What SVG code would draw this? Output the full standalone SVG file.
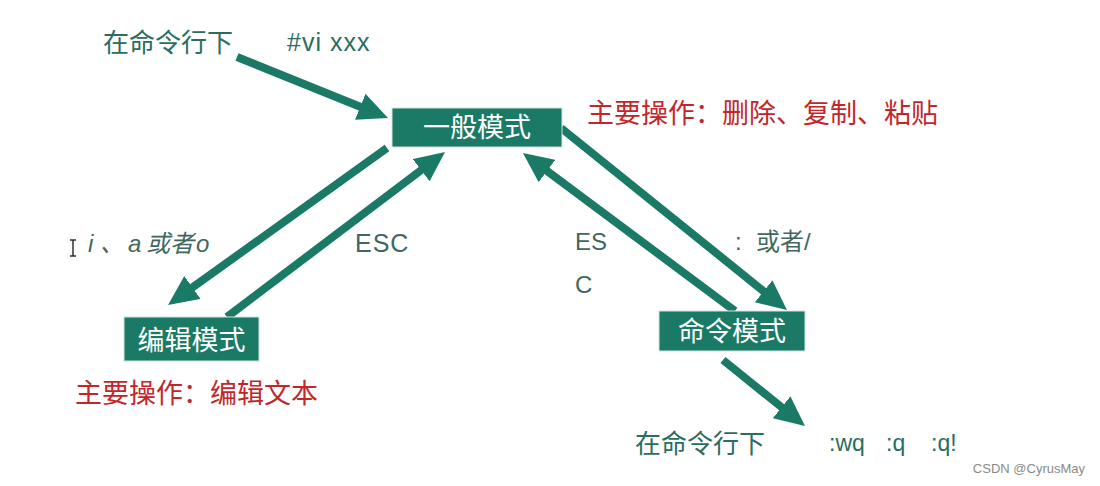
<svg xmlns="http://www.w3.org/2000/svg" width="1100" height="486" viewBox="0 0 1100 486">
<style>
.node rect{fill:#1b7a66;stroke:#cfe3dc;stroke-width:1}
.node text{fill:#ffffff;font-family:"Liberation Sans","Noto Sans CJK SC",sans-serif;font-size:27px;text-anchor:middle}
.teal{fill:#2a6d61;font-family:"Liberation Sans","Noto Sans CJK SC",sans-serif}
.grey{fill:#41675f;font-family:"Liberation Sans","Noto Sans CJK SC",sans-serif}
.red{fill:#c2262b;font-family:"Liberation Sans","Noto Sans CJK SC",sans-serif;font-size:27px}
.conn line{stroke:#1b7a66;stroke-width:8;marker-end:url(#ah)}
</style>
<defs>
<marker id="ah" viewBox="0 0 30 28" refX="10" refY="14" markerWidth="30" markerHeight="28" markerUnits="userSpaceOnUse" orient="auto">
<path d="M0,0 L30,14 L0,28 z" fill="#1b7a66"/>
</marker>
</defs>
<rect width="1100" height="486" fill="#ffffff"/>
<g id="connectors" class="conn">
<line x1="237" y1="57" x2="369.5" y2="110.5"/>
<line x1="387" y1="148" x2="184.3" y2="293.3"/>
<line x1="227" y1="317" x2="429.1" y2="164.1"/>
<line x1="561" y1="128" x2="771.4" y2="297.5"/>
<line x1="735" y1="311" x2="539" y2="165"/>
<line x1="723" y1="360" x2="789.4" y2="413.5"/>
</g>
<g id="node-general" class="node">
<rect x="392" y="108" width="170" height="39"/>
<text x="477" y="137">一般模式</text>
</g>
<g id="node-edit" class="node">
<rect x="124" y="317" width="135" height="44"/>
<text x="191.5" y="350">编辑模式</text>
</g>
<g id="node-command" class="node">
<rect x="659" y="311" width="146" height="40"/>
<text x="732" y="341">命令模式</text>
</g>
<g id="labels">
<text class="teal" x="103" y="52" font-size="26">在命令行下</text>
<text class="teal" x="287" y="51" font-size="25" letter-spacing="1">#vi xxx</text>
<text class="red" x="587" y="123">主要操作：删除、复制、粘贴</text>
<text class="grey" y="252" font-size="24" font-style="italic"><tspan x="88">i</tspan><tspan x="100">、</tspan><tspan x="128">a</tspan><tspan x="146">或者</tspan><tspan x="196">o</tspan></text>
<text class="grey" x="355" y="252" font-size="25" letter-spacing="1">ESC</text>
<text class="grey" x="575" y="250" font-size="24">ES</text>
<text class="grey" x="575" y="293" font-size="24">C</text>
<text class="grey" y="250" font-size="24"><tspan x="735">:</tspan><tspan x="756">或者/</tspan></text>
<text class="red" x="75" y="403">主要操作：编辑文本</text>
<text class="teal" x="635" y="453" font-size="26">在命令行下</text>
<text class="teal" y="451" font-size="23"><tspan x="829">:wq</tspan><tspan x="886">:q</tspan><tspan x="931">:q!</tspan></text>
<text x="1085" y="473" font-size="13" fill="#8a8a8a" text-anchor="end" font-family="'Liberation Sans',sans-serif">CSDN @CyrusMay</text>
</g>
<g id="cursor" stroke="#222" stroke-width="1.4" fill="none">
<line x1="73" y1="240" x2="73" y2="256"/>
<line x1="70" y1="240" x2="76" y2="240"/>
<line x1="70" y1="256" x2="76" y2="256"/>
</g>
</svg>
